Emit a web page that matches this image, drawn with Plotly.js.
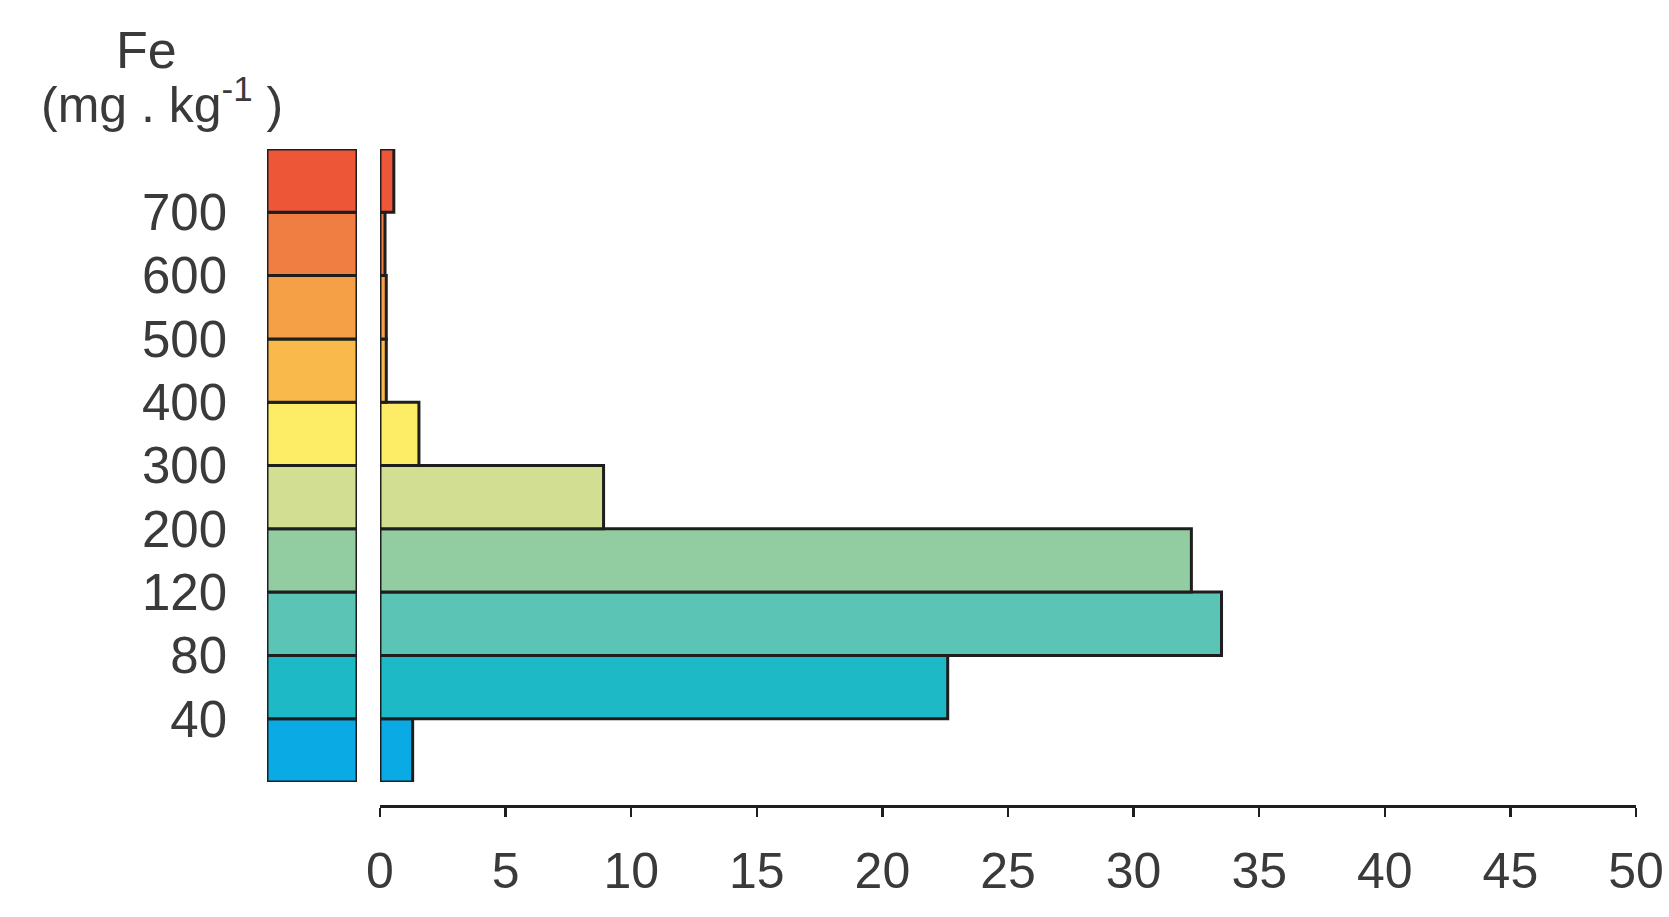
<!DOCTYPE html>
<html>
<head>
<meta charset="utf-8">
<script src="https://cdn.plot.ly/plotly-3.0.1.min.js"></script>
<style>html,body{margin:0;padding:0;background:#fff;}#chart{width:1669px;height:917px;}</style>
</head>
<body>
<div id="chart"></div>
<script>
// Classes from bottom (0-40) to top (>700)
const classes = ["0-40", "40-80", "80-120", "120-200", "200-300", "300-400", "400-500", "500-600", "600-700", ">700"];
const percent = [1.3, 22.6, 33.5, 32.3, 8.9, 1.55, 0.25, 0.25, 0.2, 0.55];
const classColors = ["#0AAAE4", "#1EB9C6", "#5BC4B4", "#91CDA0", "#D2DE92", "#FCEC66", "#FABA4B", "#F5A046", "#F07D42", "#EE5638"];
const boundaryLabels = ["40", "80", "120", "200", "300", "400", "500", "600", "700"];
const xTicks = [0, 5, 10, 15, 20, 25, 30, 35, 40, 45, 50];

const W = 1669, H = 917;
const pos = classes.map((c, i) => i + 0.5);
const boundaryPos = boundaryLabels.map((b, i) => i + 1);
const fontFam = "Liberation Sans, Arial, sans-serif";
const textColor = "#3a3a3a";
const edge = "#1e1e1e";

const legendBar = {
  type: "bar", orientation: "h",
  x: classes.map(() => 1), y: pos,
  xaxis: "x2", yaxis: "y",
  width: 1,
  marker: {color: classColors, line: {color: edge, width: 3}},
  hoverinfo: "skip", showlegend: false
};
const dataBar = {
  type: "bar", orientation: "h",
  x: percent, y: pos,
  xaxis: "x", yaxis: "y",
  width: 1,
  marker: {color: classColors, line: {color: edge, width: 3}},
  showlegend: false
};

const yBot = (H - 782) / H, yTop = (H - 149) / H;

const layout = {
  width: W, height: H,
  margin: {l: 0, r: 0, t: 0, b: 0},
  paper_bgcolor: "#ffffff", plot_bgcolor: "rgba(0,0,0,0)",
  showlegend: false,
  font: {family: fontFam, color: textColor},
  xaxis: {
    domain: [380 / W, 1636 / W], range: [0, 50],
    anchor: "free", position: (H - 806) / H,
    tickvals: xTicks, ticktext: xTicks.map(String),
    showgrid: false, zeroline: false,
    showline: true, linecolor: edge, linewidth: 3,
    ticks: "outside", ticklen: 9, tickwidth: 2.5, tickcolor: edge,
    ticklabelstandoff: 11,
    tickfont: {size: 50, family: fontFam, color: textColor}
  },
  xaxis2: {
    domain: [267 / W, 357 / W], range: [0, 1],
    anchor: "y", visible: false, fixedrange: true
  },
  yaxis: {
    domain: [yBot, yTop], range: [0, 10],
    anchor: "x2",
    tickvals: boundaryPos, ticktext: boundaryLabels,
    showgrid: false, zeroline: false, showline: false,
    ticks: "", ticklabelstandoff: 39,
    tickfont: {size: 51, family: fontFam, color: textColor}
  },
  annotations: [
    {text: "Fe", xref: "paper", yref: "paper", x: 146 / W, y: (H - 50) / H,
     xanchor: "center", yanchor: "middle", showarrow: false,
     font: {size: 52, family: fontFam, color: textColor}},
    {text: "(mg . kg<sup>-1</sup> )", xref: "paper", yref: "paper", x: 162 / W, y: (H - 101) / H,
     xanchor: "center", yanchor: "middle", showarrow: false,
     font: {size: 50, family: fontFam, color: textColor}}
  ]
};

Plotly.newPlot("chart", [legendBar, dataBar], layout, {displayModeBar: false, staticPlot: true});
</script>
</body>
</html>
